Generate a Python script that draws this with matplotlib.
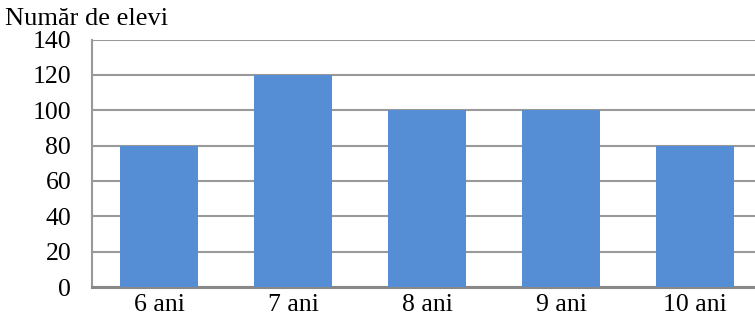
import numpy as np
import matplotlib.pyplot as plt

plt.rcParams['font.family'] = ['Liberation Serif', 'DejaVu Serif']

# Data
categories = ['6 ani', '7 ani', '8 ani', '9 ani', '10 ani']
students = [80, 120, 100, 100, 80]
y_ticks = [0, 20, 40, 60, 80, 100, 120, 140]

fig = plt.figure(figsize=(7.55, 3.18), dpi=100)
# axes runs slightly past the right edge, as in the reference
ax = fig.add_axes([92 / 755, 31 / 318, 670 / 755, 247.5 / 318])

x = np.arange(len(categories))
ax.bar(x, students, width=0.575, color='#558ED5', zorder=3)

ax.set_xlim(-0.5, len(categories) - 0.5)
ax.set_ylim(0, 140)
ax.set_yticks(y_ticks)
ax.set_xticks(x)
ax.set_xticklabels(categories)

ax.grid(axis='y', color='#999999', linewidth=1.5, zorder=0)
for side in ['top', 'right']:
    ax.spines[side].set_visible(False)
ax.spines['left'].set_color('#999999')
ax.spines['left'].set_linewidth(1.5)
ax.spines['bottom'].set_color('#888888')
ax.spines['bottom'].set_linewidth(2.2)

ax.tick_params(axis='y', length=0, pad=15, labelsize=18.5)
ax.tick_params(axis='x', length=0, pad=5, labelsize=18.5)

fig.text(5 / 755, 1 - 25 / 318, 'Număr de elevi', fontsize=19, ha='left', va='baseline')

fig.savefig('out.png', dpi=100)
